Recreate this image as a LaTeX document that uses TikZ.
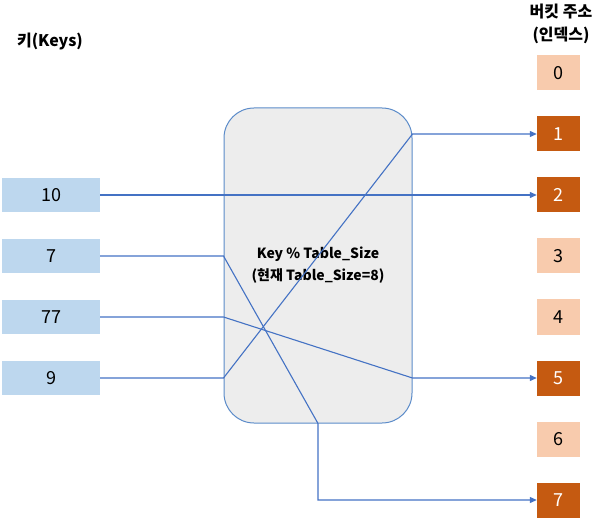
\documentclass[tikz,border=0pt]{standalone}
\usepackage{fontspec}
\setmainfont{Noto Sans CJK KR}
\usetikzlibrary{arrows.meta}

\definecolor{keyblue}{HTML}{BDD7EE}
\definecolor{usedorange}{HTML}{C55A11}
\definecolor{freeorange}{HTML}{F8CBAD}
\definecolor{linkblue}{HTML}{4472C4}
\definecolor{framblue}{HTML}{5B8BC9}
\definecolor{boxgray}{HTML}{EDEDED}

\tikzset{
    keybox/.style={fill=keyblue, minimum width=98pt, minimum height=34pt, inner sep=0pt, font=\fontsize{18}{20}\selectfont},
    bucket/.style={minimum width=43pt, minimum height=35pt, inner sep=0pt, font=\fontsize{18}{20}\selectfont},
    usedbucket/.style={bucket, fill=usedorange, text=white},
    freebucket/.style={bucket, fill=freeorange},
    link/.style={draw=linkblue, line width=1.1pt, -{Triangle[length=7pt,width=6pt]}}
}

\begin{document}
\begin{tikzpicture}[x=1pt,y=-1pt]
    \useasboundingbox (0,0) rectangle (599,526);

    % headers
    \node[font=\bfseries\fontsize{16}{23}\selectfont] (keyhead) at (50,42) {키(Keys)};
    \node[font=\bfseries\fontsize{16}{23}\selectfont, align=center] (buckethead) at (561,24) {버킷 주소\\(인덱스)};

    % hash function
    \node[draw=framblue, fill=boxgray, line width=1pt, rounded corners=30pt, minimum width=188pt, minimum height=315pt, align=center, font=\bfseries\fontsize{14}{22}\selectfont] (hashfn) at (318,265.5) {Key \% Table\_Size\\(현재 Table\_Size=8)};

    % keys
    \node[keybox] (k10) at (51,195) {10};
    \node[keybox] (k7) at (51,256) {7};
    \node[keybox] (k77) at (51,317) {77};
    \node[keybox] (k9) at (51,378) {9};

    % buckets
    \node[freebucket] (b0) at (558.5,73) {0};
    \node[usedbucket] (b1) at (558.5,134) {1};
    \node[usedbucket] (b2) at (558.5,195) {2};
    \node[freebucket] (b3) at (558.5,256) {3};
    \node[freebucket] (b4) at (558.5,317) {4};
    \node[usedbucket] (b5) at (558.5,378) {5};
    \node[freebucket] (b6) at (558.5,439) {6};
    \node[usedbucket] (b7) at (558.5,500) {7};

    % mapping
    \draw[link] (k10) -- (b2);
    \draw[link] (k7.east) -- (k7.east -| hashfn.west) -- (hashfn.south) -- (hashfn.south |- b7) -- (b7);
    \draw[link] (k77.east) -- (k77.east -| hashfn.west) -- (hashfn.east |- b5) -- (b5);
    \draw[link] (k9.east) -- (k9.east -| hashfn.west) -- (hashfn.east |- b1) -- (b1);
\end{tikzpicture}
\end{document}
